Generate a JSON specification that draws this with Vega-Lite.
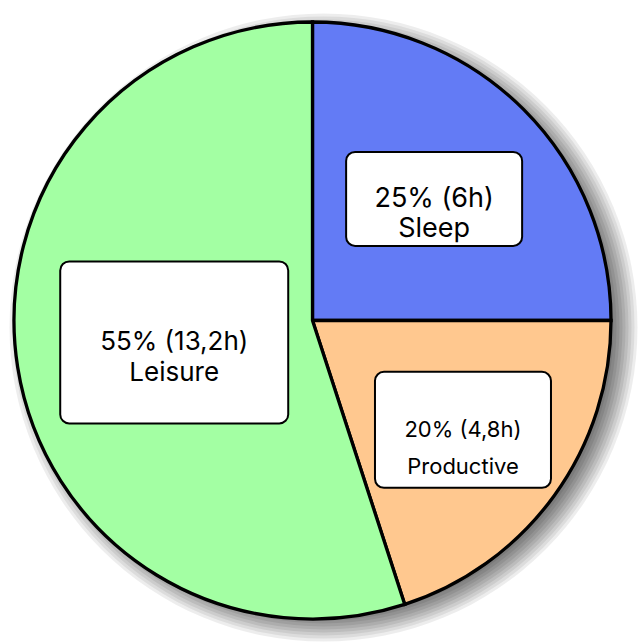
{
  "$schema": "https://vega.github.io/schema/vega-lite/v6.json",
  "width": 625,
  "height": 641,
  "autosize": {"type": "none"},
  "padding": {"left": 0, "top": 0, "right": 17, "bottom": 1},
  "background": "white",
  "config": {"view": {"stroke": null}},
  "data": {"values": [
    {"category": "Sleep", "pct": 25, "hours": 6},
    {"category": "Productive", "pct": 20, "hours": 4.8},
    {"category": "Leisure", "pct": 55, "hours": 13.2}
  ]},
  "transform": [
    {"calculate": "indexof(['Sleep','Productive','Leisure'], datum.category)", "as": "ord"},
    {"window": [{"op": "sum", "field": "pct", "as": "cum"}], "sort": [{"field": "ord", "order": "ascending"}], "frame": [null, 0]},
    {"calculate": "(datum.cum - datum.pct / 2) / 100 * 2 * PI", "as": "mid"},
    {"calculate": "[datum.pct + '% (' + replace(toString(datum.hours), '.', ',') + 'h)', datum.category]", "as": "lines"}
  ],
  "layer": [
    {
      "transform": [{"aggregate": [{"op": "count", "as": "n"}]}],
      "layer": [
        {"mark": {"type": "circle", "fill": "black", "opacity": 0.07, "strokeWidth": 0, "size": 394384, "xOffset": 11, "yOffset": 7}},
        {"mark": {"type": "circle", "fill": "black", "opacity": 0.07, "strokeWidth": 0, "size": 386884, "xOffset": 11, "yOffset": 7}},
        {"mark": {"type": "circle", "fill": "black", "opacity": 0.07, "strokeWidth": 0, "size": 379456, "xOffset": 11, "yOffset": 7}},
        {"mark": {"type": "circle", "fill": "black", "opacity": 0.08, "strokeWidth": 0, "size": 372100, "xOffset": 11, "yOffset": 7}},
        {"mark": {"type": "circle", "fill": "black", "opacity": 0.08, "strokeWidth": 0, "size": 364816, "xOffset": 11, "yOffset": 7}},
        {"mark": {"type": "circle", "fill": "black", "opacity": 0.08, "strokeWidth": 0, "size": 357604, "xOffset": 11, "yOffset": 7}},
        {"mark": {"type": "circle", "fill": "black", "opacity": 0.08, "strokeWidth": 0, "size": 350464, "xOffset": 11, "yOffset": 7}},
        {"mark": {"type": "circle", "fill": "black", "opacity": 0.08, "strokeWidth": 0, "size": 343396, "xOffset": 11, "yOffset": 7}},
        {"mark": {"type": "circle", "fill": "black", "opacity": 0.08, "strokeWidth": 0, "size": 336400, "xOffset": 11, "yOffset": 7}}
      ],
      "encoding": {
        "x": {"datum": 0, "type": "quantitative", "scale": {"domain": [-312.5, 312.5], "nice": false, "zero": false}, "axis": null},
        "y": {"datum": 0, "type": "quantitative", "scale": {"domain": [-320.5, 320.5], "nice": false, "zero": false}, "axis": null}
      }
    },
    {
      "mark": {"type": "arc", "outerRadius": 298.5, "stroke": "black", "strokeWidth": 3.3},
      "encoding": {
        "theta": {"field": "pct", "type": "quantitative", "stack": true},
        "order": {"field": "ord", "type": "quantitative"},
        "color": {"field": "category", "type": "nominal", "scale": {"domain": ["Sleep", "Productive", "Leisure"], "range": ["#637BF5", "#FFC88F", "#A3FFA3"]}, "legend": null}
      }
    },
    {
      "transform": [
        {"filter": "datum.category === 'Sleep'"},
        {"calculate": "172 * sin(datum.mid)", "as": "cx"},
        {"calculate": "172 * cos(datum.mid)", "as": "cy"}
      ],
      "encoding": {
        "x": {"field": "cx", "type": "quantitative", "scale": {"domain": [-312.5, 312.5], "nice": false, "zero": false}, "axis": null},
        "y": {"field": "cy", "type": "quantitative", "scale": {"domain": [-320.5, 320.5], "nice": false, "zero": false}, "axis": null}
      },
      "layer": [
        {"mark": {"type": "rect", "fill": "white", "stroke": "black", "strokeWidth": 2, "cornerRadius": 9, "xOffset": -88, "x2Offset": 88, "yOffset": -47, "y2Offset": 47},
         "encoding": {"x2": {"field": "cx"}, "y2": {"field": "cy"}}},
        {"mark": {"type": "text", "font": "Inter", "fontSize": 27, "lineHeight": 30, "align": "center", "baseline": "middle", "color": "black"},
         "encoding": {"text": {"field": "lines"}}}
      ]
    },
    {
      "transform": [
        {"filter": "datum.category === 'Productive'"},
        {"calculate": "186 * sin(datum.mid)", "as": "cx"},
        {"calculate": "186 * cos(datum.mid)", "as": "cy"}
      ],
      "encoding": {
        "x": {"field": "cx", "type": "quantitative", "scale": {"domain": [-312.5, 312.5], "nice": false, "zero": false}, "axis": null},
        "y": {"field": "cy", "type": "quantitative", "scale": {"domain": [-320.5, 320.5], "nice": false, "zero": false}, "axis": null}
      },
      "layer": [
        {"mark": {"type": "rect", "fill": "white", "stroke": "black", "strokeWidth": 2, "cornerRadius": 9, "xOffset": -88, "x2Offset": 88, "yOffset": -58, "y2Offset": 58},
         "encoding": {"x2": {"field": "cx"}, "y2": {"field": "cy"}}},
        {"mark": {"type": "text", "font": "Inter", "fontSize": 22, "lineHeight": 37, "align": "center", "baseline": "middle", "color": "black"},
         "encoding": {"text": {"field": "lines"}}}
      ]
    },
    {
      "transform": [
        {"filter": "datum.category === 'Leisure'"},
        {"calculate": "140 * sin(datum.mid)", "as": "cx"},
        {"calculate": "140 * cos(datum.mid)", "as": "cy"}
      ],
      "encoding": {
        "x": {"field": "cx", "type": "quantitative", "scale": {"domain": [-312.5, 312.5], "nice": false, "zero": false}, "axis": null},
        "y": {"field": "cy", "type": "quantitative", "scale": {"domain": [-320.5, 320.5], "nice": false, "zero": false}, "axis": null}
      },
      "layer": [
        {"mark": {"type": "rect", "fill": "white", "stroke": "black", "strokeWidth": 2, "cornerRadius": 9, "xOffset": -114, "x2Offset": 114, "yOffset": -81, "y2Offset": 81},
         "encoding": {"x2": {"field": "cx"}, "y2": {"field": "cy"}}},
        {"mark": {"type": "text", "font": "Inter", "fontSize": 26, "lineHeight": 31, "align": "center", "baseline": "middle", "color": "black"},
         "encoding": {"text": {"field": "lines"}}}
      ]
    }
  ]
}
